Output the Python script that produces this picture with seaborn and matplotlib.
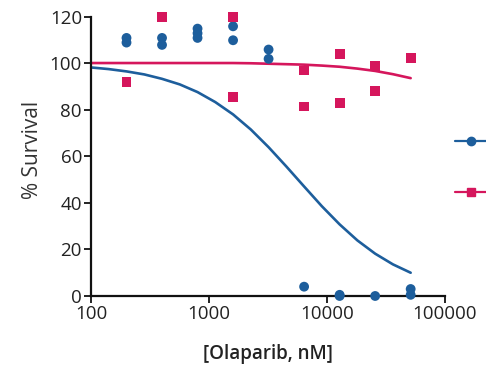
import numpy as np
import pandas as pd
import seaborn as sns
from matplotlib import pyplot as plt
from matplotlib.lines import Line2D

# Olaparib doses (nM) and % survival replicates.
blue_dose = [200, 200, 400, 400, 800, 800, 800, 1600, 1600, 3200, 3200,
             6400, 12800, 12800, 25600, 51200, 51200]
blue_surv = [111, 109, 111, 108, 115, 113, 111, 116, 110, 106, 102,
             4, 0.5, 0, 0, 3, 0.5]
pink_dose = [200, 400, 1600, 1600, 6400, 6400, 12800, 12800, 25600, 25600, 51200]
pink_surv = [92, 120, 120, 85.5, 97, 81.5, 104, 83, 99, 88, 102.5]

# Fitted curves (half-step doses).
curve_dose = [100, 141, 200, 283, 400, 566, 800, 1131, 1600, 2263, 3200,
              4525, 6400, 9051, 12800, 18102, 25600, 36204, 51200]
blue_curve = [98.3, 97.6, 96.6, 95.3, 93.4, 91.0, 87.7, 83.4, 78.1, 71.6, 64.0,
              55.7, 47.1, 38.6, 30.8, 23.9, 18.2, 13.6, 10.0]
pink_curve = [100.2, 100.2, 100.2, 100.2, 100.2, 100.2, 100.2, 100.2, 100.2, 100.1, 99.9,
              99.7, 99.5, 99.1, 98.6, 97.8, 96.8, 95.4, 93.7]

series = ['Sensitive', 'Resistant']
BLUE = '#1d5e9c'
PINK = '#d5165c'
palette = {'Sensitive': BLUE, 'Resistant': PINK}

pts = pd.DataFrame({
    'dose': blue_dose + pink_dose,
    'survival': blue_surv + pink_surv,
    'line': [series[0]] * len(blue_dose) + [series[1]] * len(pink_dose),
})
fit = pd.DataFrame({
    'dose': curve_dose * 2,
    'survival': blue_curve + pink_curve,
    'line': [series[0]] * len(curve_dose) + [series[1]] * len(curve_dose),
})

sns.set_style('ticks')
plt.rcParams['font.family'] = ['Open Sans', 'DejaVu Sans']

fig = plt.figure(figsize=(4.86, 3.68), dpi=100)
ax = fig.add_axes([0.1872, 0.1957, 0.9156 - 0.1872, 0.9538 - 0.1957])

sns.lineplot(data=fit, x='dose', y='survival', hue='line', palette=palette,
             linewidth=1.9, legend=False, ax=ax)
sns.scatterplot(data=pts, x='dose', y='survival', hue='line', style='line',
                markers={'Sensitive': 'o', 'Resistant': 's'}, palette=palette,
                s=50, linewidth=0, legend=False, clip_on=False, zorder=3, ax=ax)

ax.set_xscale('log')
ax.set_xlim(100, 100000)
ax.set_ylim(0, 120)
ax.set_xticks([100, 1000, 10000, 100000])
ax.set_xticklabels(['100', '1000', '10000', '100000'])
ax.xaxis.set_minor_locator(plt.NullLocator())
ax.set_yticks(range(0, 121, 20))
ax.tick_params(axis='both', labelsize=13.5, length=5, width=1.4, pad=1.5, colors='#222222')
for side in ['left', 'bottom']:
    ax.spines[side].set_linewidth(1.6)
    ax.spines[side].set_color('#111111')
sns.despine(ax=ax)

ax.set_xlabel('[Olaparib, nM]', fontsize=13.5, fontweight='semibold', color='#222222', labelpad=15)
ax.set_ylabel('% Survival', fontsize=15, color='#333333')
ax.yaxis.set_label_coords(-0.136, 0.523)

# legend sits at the right edge; its labels fall outside the canvas, as in the original crop
handles = [Line2D([], [], color=BLUE, marker='o', markersize=6, linewidth=1.6),
           Line2D([], [], color=PINK, marker='s', markersize=6, linewidth=1.6)]
fig.legend(handles, series, loc='center left', bbox_to_anchor=(455 / 486, 0.5435),
           frameon=False, borderpad=0, borderaxespad=0, fontsize=13.5,
           labelspacing=1.75, handlelength=1.7, handletextpad=1.2)

fig.savefig('out.png', dpi=100)
